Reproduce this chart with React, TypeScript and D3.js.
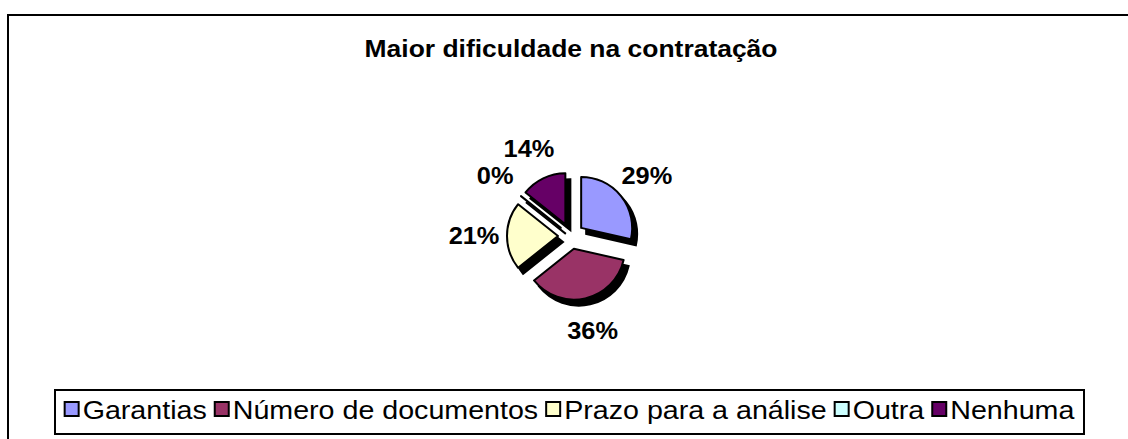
import React, { useEffect, useRef } from 'react';
import * as d3 from 'd3';

const title = 'Maior dificuldade na contratação';
const categories = ['Garantias', 'Número de documentos', 'Prazo para a análise', 'Outra', 'Nenhuma'];
const counts = [4, 5, 3, 0, 2];
const colors = ['#9999FF', '#993366', '#FFFFCC', '#CCFFFF', '#660066'];

const FONT = '"Liberation Sans", Arial, sans-serif';

const App = () => {
  const svgRef = useRef<SVGSVGElement>(null);

  useEffect(() => {
    const width = 1128;
    const height = 439;
    const cx = 571; // pie centre
    const cy = 236;
    const radius = 51;
    const explode = 13;
    const labelRadius = 97;
    const stretch = 1.08; // text in the source is drawn a bit wider than normal

    const svg = d3.select(svgRef.current);
    svg.selectAll('*').remove();
    svg.attr('width', width).attr('height', height);

    // chart area frame (runs off the right and bottom edge)
    svg.append('rect')
      .attr('x', 8).attr('y', 15)
      .attr('width', 1200).attr('height', 600)
      .attr('fill', '#fff')
      .attr('stroke', '#000')
      .attr('stroke-width', 2);

    // title
    svg.append('text')
      .attr('transform', `translate(${cx},57) scale(${stretch},1)`)
      .attr('text-anchor', 'middle')
      .style('font-family', FONT)
      .style('font-weight', 'bold')
      .style('font-size', '24.5px')
      .text(title);

    const total = d3.sum(counts);
    const pie = d3.pie<number>().sort(null).value(d => d);
    const arcs = pie(counts);
    const arc = d3.arc<d3.PieArcDatum<number>>().innerRadius(0).outerRadius(radius);
    const mid = (d: d3.PieArcDatum<number>) => (d.startAngle + d.endAngle) / 2;
    const shift = (d: d3.PieArcDatum<number>) => [Math.sin(mid(d)) * explode, -Math.cos(mid(d)) * explode];

    const g = svg.append('g').attr('transform', `translate(${cx},${cy})`);

    // shadow
    g.selectAll('path.shadow')
      .data(arcs)
      .join('path')
      .attr('class', 'shadow')
      .attr('d', arc)
      .attr('fill', '#000')
      .attr('stroke', '#000')
      .attr('stroke-width', 2)
      .attr('transform', d => {
        const [x, y] = shift(d);
        return `translate(${x + 5},${y + 6})`;
      });

    // slices
    g.selectAll('path.slice')
      .data(arcs)
      .join('path')
      .attr('class', 'slice')
      .attr('d', arc)
      .attr('fill', (d, i) => colors[i])
      .attr('stroke', '#000')
      .attr('stroke-width', 2)
      .attr('stroke-linejoin', 'round')
      .attr('transform', d => {
        const [x, y] = shift(d);
        return `translate(${x},${y})`;
      });

    // percentage labels
    const pct = d3.format('.0%');
    g.selectAll('text.label')
      .data(arcs)
      .join('text')
      .attr('class', 'label')
      .attr('transform', d => {
        const x = Math.sin(mid(d)) * labelRadius;
        const y = -Math.cos(mid(d)) * labelRadius;
        return `translate(${x},${y}) scale(${stretch},1)`;
      })
      .attr('text-anchor', 'middle')
      .attr('dominant-baseline', 'central')
      .style('font-family', FONT)
      .style('font-weight', 'bold')
      .style('font-size', '23.5px')
      .text(d => pct(d.data / total));

    // legend
    const legX = 55, legY = 390, legW = 1029, legH = 44;
    svg.append('rect')
      .attr('x', legX).attr('y', legY)
      .attr('width', legW).attr('height', legH)
      .attr('fill', '#fff')
      .attr('stroke', '#000')
      .attr('stroke-width', 2);

    const marker = 14;
    const gapAfterMarker = 4;
    const gapBetween = 8;
    const legend = svg.append('g');
    const items = categories.map((name, i) => {
      const item = legend.append('g');
      item.append('rect')
        .attr('x', 0).attr('y', legY + 12)
        .attr('width', marker).attr('height', marker)
        .attr('fill', colors[i])
        .attr('stroke', '#000')
        .attr('stroke-width', 2);
      const t = item.append('text')
        .attr('transform', `translate(${marker + gapAfterMarker},${legY + 29}) scale(${stretch},1)`)
        .style('font-family', FONT)
        .style('font-size', '26.5px')
        .text(name);
      const w = (t.node() as SVGTextElement).getComputedTextLength() * stretch;
      return { item, w: marker + gapAfterMarker + w };
    });
    const totalW = d3.sum(items, d => d.w) + gapBetween * (items.length - 1);
    let x = legX + (legW - totalW) / 2;
    items.forEach(({ item, w }) => {
      item.attr('transform', `translate(${x},0)`);
      x += w + gapBetween;
    });
  }, []);

  return (
    <svg ref={svgRef} style={{ position: 'absolute', left: 0, top: 0, background: '#fff' }} />
  );
};

export default App;
